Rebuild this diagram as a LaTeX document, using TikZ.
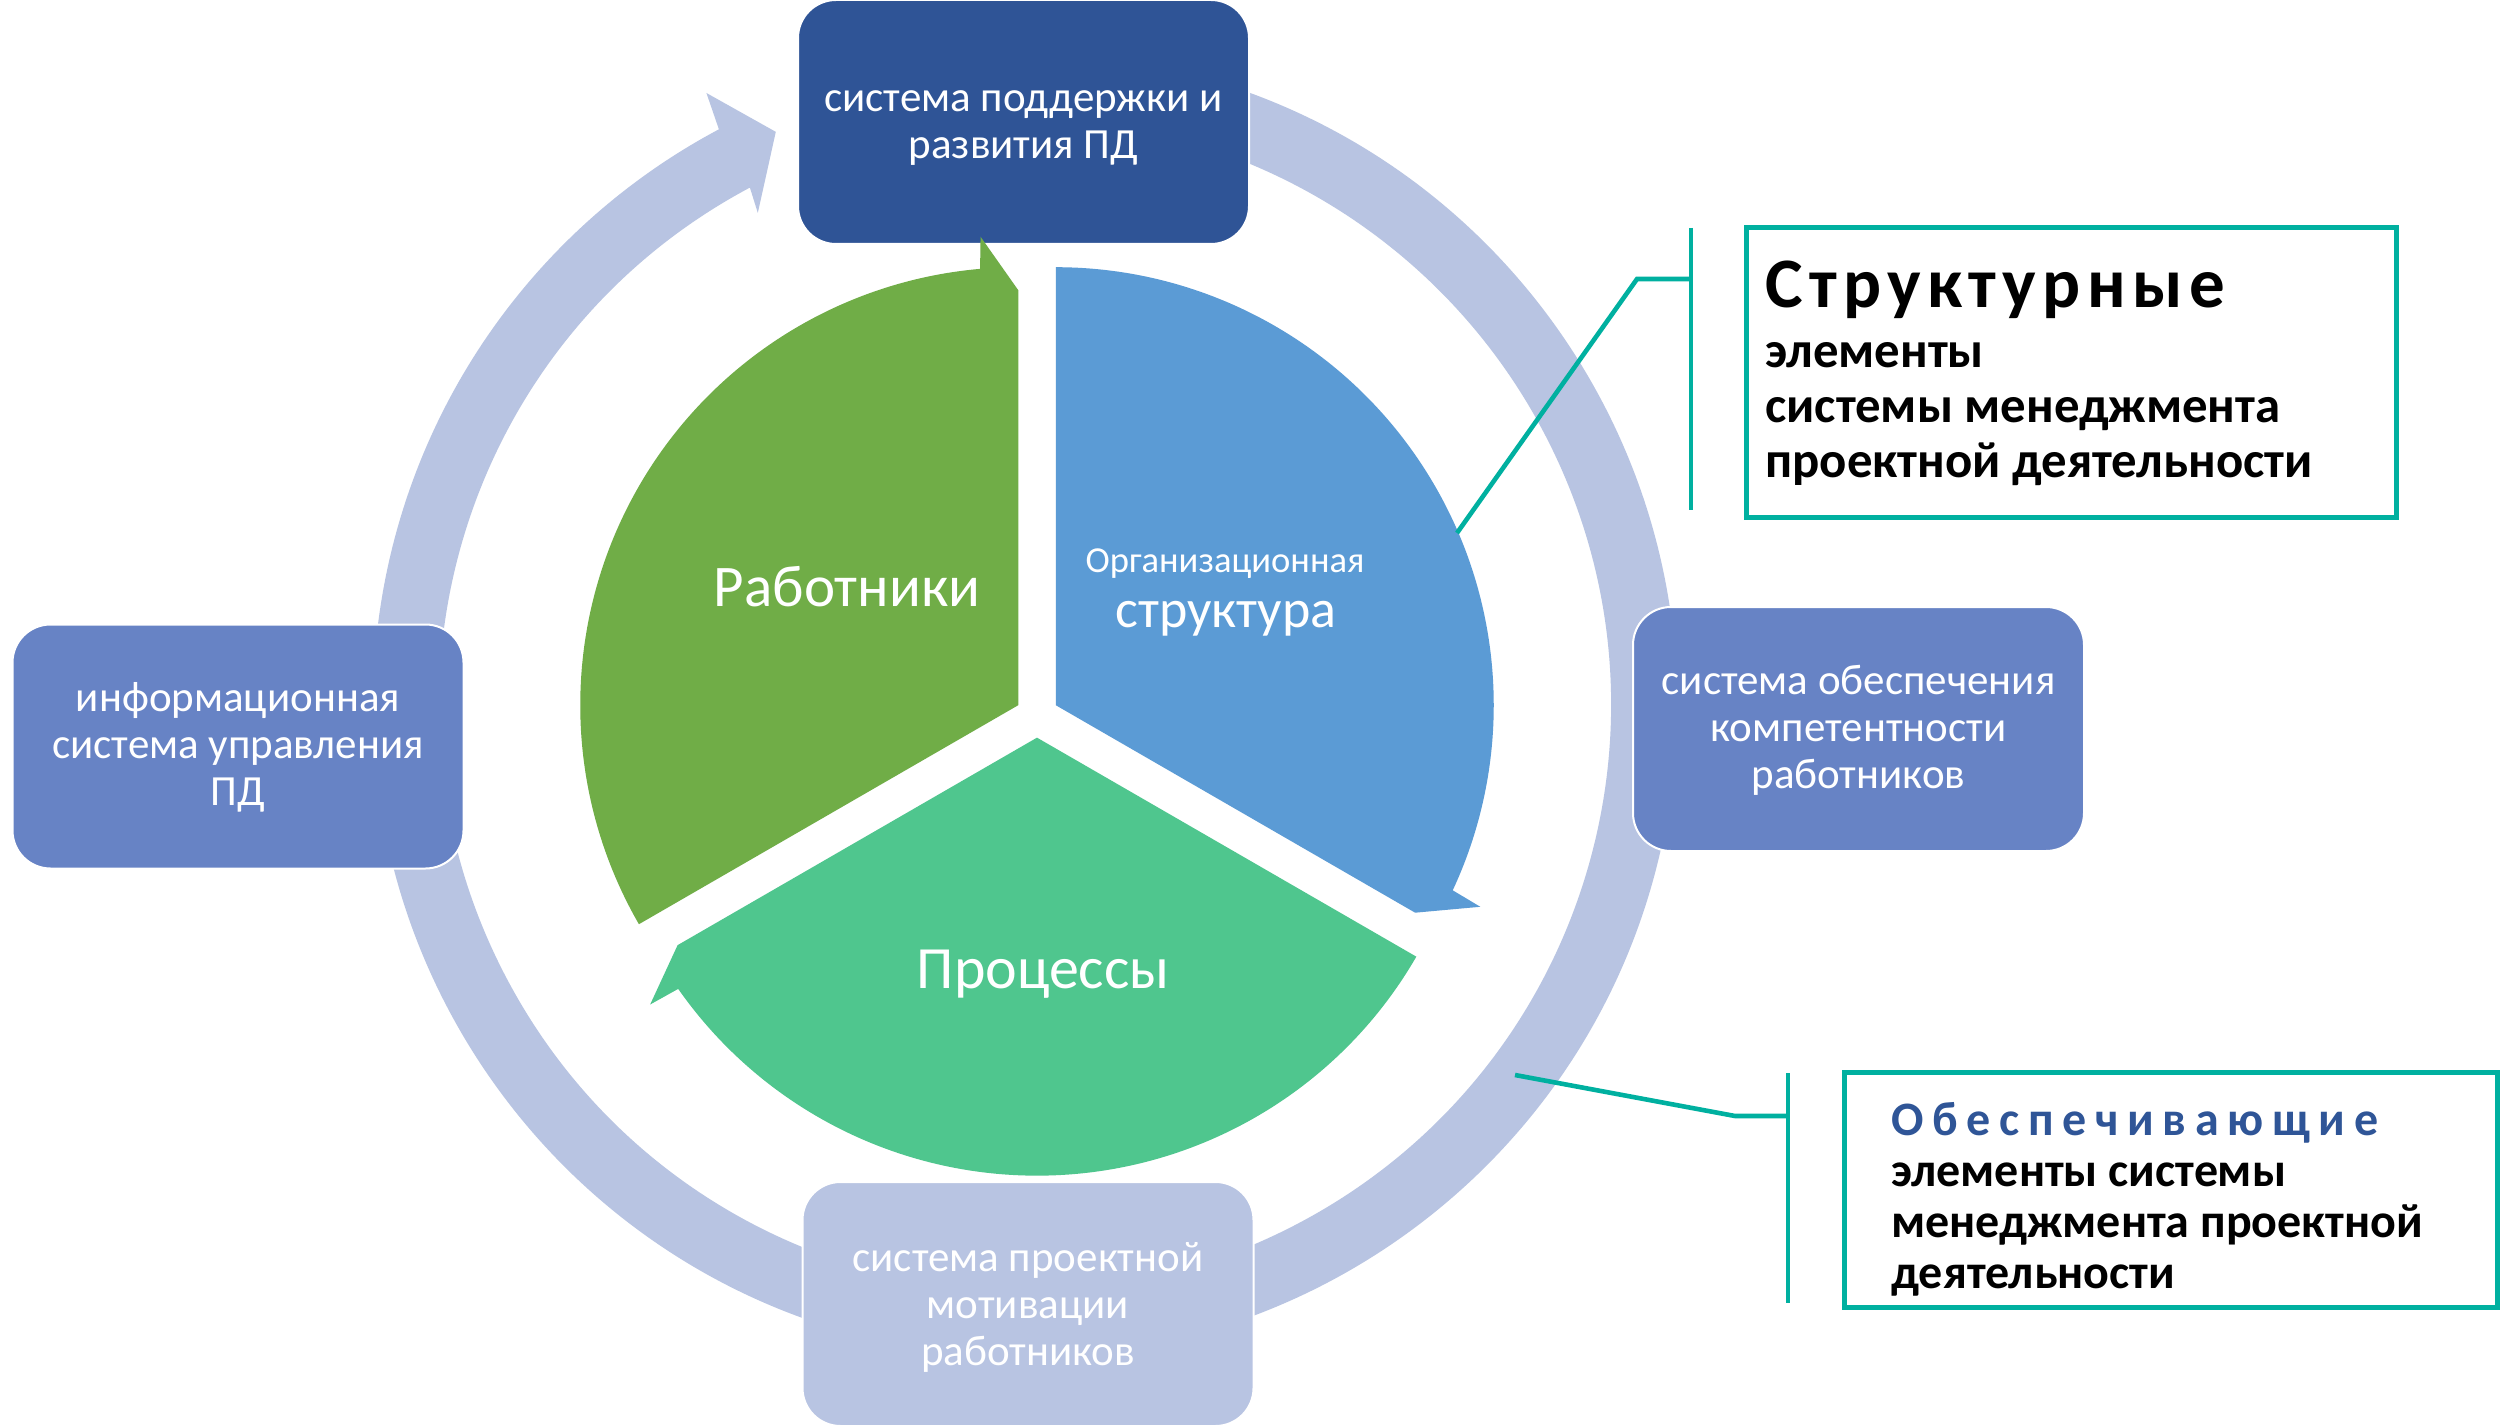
\documentclass[tikz,border=0pt]{standalone}
\usepackage{fontspec}
\setmainfont{Carlito}
\newfontfamily\spacedA{Carlito}[LetterSpace=9]
\newfontfamily\spacedB{Carlito}[LetterSpace=18]
\usetikzlibrary{calc}
\definecolor{ringc}{HTML}{B8C4E2}
\definecolor{darkbox}{HTML}{2F5496}
\definecolor{midbox}{HTML}{6783C5}
\definecolor{wgreen}{HTML}{70AD47}
\definecolor{wblue}{HTML}{5B9BD5}
\definecolor{wproc}{HTML}{4FC68E}
\definecolor{calloutc}{HTML}{00B0A0}
\definecolor{headblue}{HTML}{2F5597}
\tikzset{
  sysbox/.style={rectangle, rounded corners=19pt, draw=white, line width=1pt,
    inner sep=0pt, minimum width=225.5pt, minimum height=122pt},
  systext/.style={text=white, font=\fontsize{21.5}{23.5}\selectfont, align=center,
    inner sep=0pt, anchor=base},
  wlabel/.style={text=white, inner sep=0pt, anchor=base},
  tealline/.style={draw=calloutc, line width=2.3pt},
  callbox/.style={rectangle, draw=calloutc, line width=2.5pt, fill=white, inner sep=0pt},
  calltext/.style={inner sep=0pt, anchor=base west, align=left},
}
\begin{document}
\begin{tikzpicture}[x=0.5pt,y=-0.5pt]
\fill[white] (0,0) rectangle (2501,1428);
\useasboundingbox (0,0) rectangle (2501,1428);

% outer ring with arrow head
\begin{scope}[shift={(1025,705)}]
\fill[ringc] (-80:652) arc[start angle=-80,end angle=242,radius=652]
  -- (242.5:690) -- (246.5:625) -- (241.5:560) -- (242:586)
  arc[start angle=242,end angle=-80,radius=586] -- cycle;
\end{scope}

% boxes
\node[sysbox, fill=darkbox] (top) at (1023.5,122) {};
\node[sysbox, fill=midbox] (left) at (238,746.5) {};
\node[sysbox, fill=midbox] (right) at (1858.5,729) {};
\node[sysbox, fill=ringc] (bottom) at (1028,1304) {};
\node[systext] (topT) at (1023.5,159) {система поддержки и\\развития ПД};
\node[systext] (leftT) at (238,805) {информационная\\система управления\\ПД};
\node[systext] (rightT) at (1858.5,788) {система обеспечения\\компетентности\\работников};
\node[systext] (bottomT) at (1028,1365) {система проектной\\мотивации\\работников};

% wedges
\begin{scope}[shift={(1018.25,705.2)}]
\fill[wgreen] (0,0) -- (150:438) arc[start angle=150,end angle=265,radius=438]
  -- (265.4:470) -- (270:415) -- cycle;
\end{scope}
\begin{scope}[shift={(1055.75,705.2)}]
\fill[wblue] (0,0) -- (270:438) arc[start angle=270,end angle=385,radius=438]
  -- (385.4:470) -- (390:415) -- cycle;
\end{scope}
\begin{scope}[shift={(1037,737.65)}]
\fill[wproc] (0,0) -- (30:438) arc[start angle=30,end angle=145,radius=438]
  -- (145.4:470) -- (150:415) -- cycle;
\end{scope}

\node[wlabel, font=\fontsize{29.5}{32}\selectfont] (workers) at (847,606) {Работники};
\node[wlabel, font=\fontsize{18.3}{20}\selectfont] (orgA) at (1225,572) {Организационная};
\node[wlabel, font=\fontsize{27}{30}\selectfont] (orgB) at (1226,627) {структура};
\node[wlabel, font=\fontsize{30}{33}\selectfont] (proc) at (1043,988) {Процессы};

% callout: structural
\coordinate (s1) at (1457,533);
\coordinate (s2) at (1637,279);
\coordinate (s3) at (1691,279);
\coordinate (sbT) at (1691,228);
\coordinate (sbB) at (1691,510);
\draw[tealline] (s1) -- (s2) -- (s3);
\draw[tealline] (sbT) -- (sbB);
\node[callbox, anchor=north west, minimum width=325pt, minimum height=145pt] (sbox) at (1744,225) {};
\node[inner sep=0pt, anchor=base west, font=\spacedA\bfseries\fontsize{35.5}{40}\selectfont] (shead) at (1765,308) {Структурные};
\node[calltext, font=\bfseries\fontsize{25.4}{27.5}\selectfont] (stext) at (1765,478) {элементы\\системы менеджмента\\проектной деятельности};

% callout: supporting
\coordinate (p1) at (1515,1075);
\coordinate (p2) at (1735,1116);
\coordinate (p3) at (1788,1116);
\coordinate (pbT) at (1788,1073);
\coordinate (pbB) at (1788,1303);
\draw[tealline] (p1) -- (p2) -- (p3);
\draw[tealline] (pbT) -- (pbB);
\node[callbox, anchor=north west, minimum width=326.5pt, minimum height=117.5pt] (pbox) at (1842,1070) {};
\node[inner sep=0pt, anchor=base west, text=headblue, font=\spacedB\bfseries\fontsize{24}{27}\selectfont] (phead) at (1891,1135) {Обеспечивающие};
\node[calltext, font=\bfseries\fontsize{24}{25.5}\selectfont] (ptext) at (1891,1288) {элементы системы\\менеджмента проектной\\деятельности};
\end{tikzpicture}
\end{document}
